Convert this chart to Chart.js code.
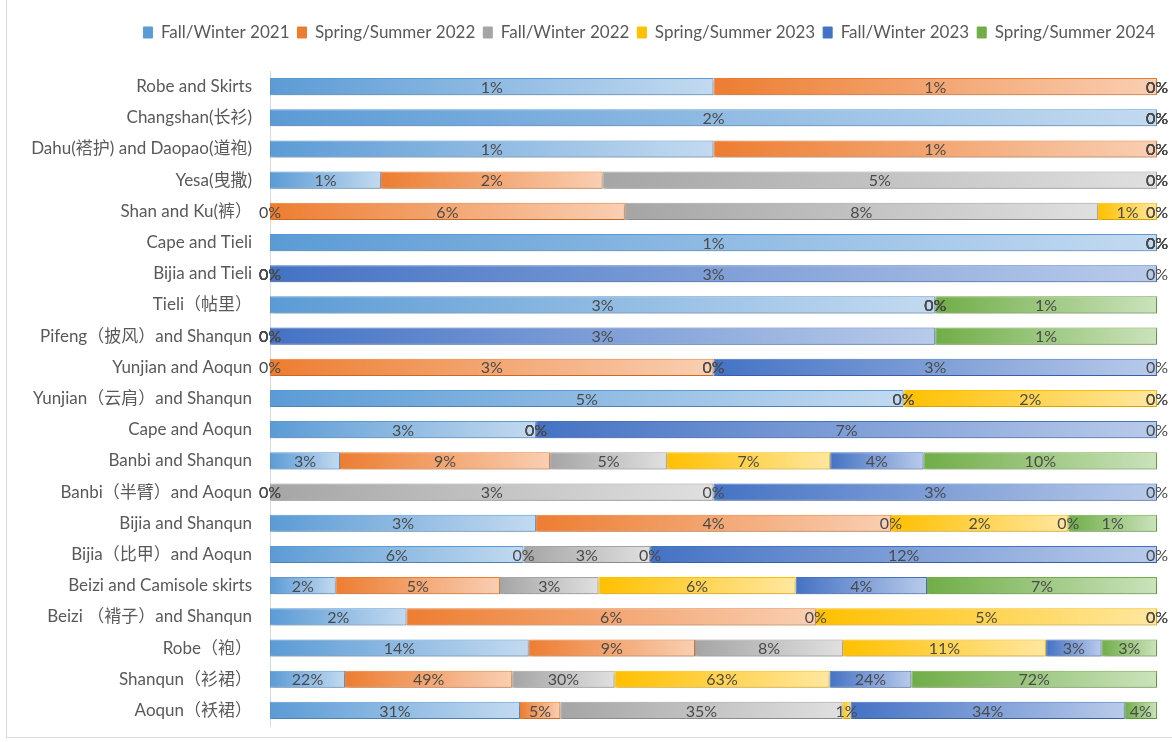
<!DOCTYPE html>
<html>
<head>
<meta charset="utf-8">
<title>Garment types by season</title>
<script src="https://cdn.jsdelivr.net/npm/chart.js@4.4.1/dist/chart.umd.min.js"></script>
<style>
  html, body { margin: 0; padding: 0; background: #fff; }
  #wrap { position: relative; width: 1172px; height: 742px; overflow: hidden; }
  #frame { position: absolute; left: 6px; top: -2px; width: 1200px; height: 739px;
           border-left: 1px solid #d9d9d9; border-bottom: 1px solid #d9d9d9; pointer-events: none; }
</style>
</head>
<body>
<div id="wrap">
  <canvas id="seasonChart" width="1172" height="742"></canvas>
  <div id="frame"></div>
</div>
<script>
// Constants

// garment combinations, top row first
const categories = [
  "Robe and Skirts",
  "Changshan(长衫)",
  "Dahu(褡护) and Daopao(道袍)",
  "Yesa(曳撒)",
  "Shan and Ku(裤）",
  "Cape and Tieli",
  "Bijia and Tieli",
  "Tieli（帖里）",
  "Pifeng（披风）and Shanqun",
  "Yunjian and Aoqun",
  "Yunjian（云肩）and Shanqun",
  "Cape and Aoqun",
  "Banbi and Shanqun",
  "Banbi（半臂）and Aoqun",
  "Bijia and Shanqun",
  "Bijia（比甲）and Aoqun",
  "Beizi and Camisole skirts",
  "Beizi （褙子）and Shanqun",
  "Robe（袍）",
  "Shanqun（衫裙）",
  "Aoqun（袄裙）"
];

const seasons = ["Fall/Winter 2021", "Spring/Summer 2022", "Fall/Winter 2022",
                 "Spring/Summer 2023", "Fall/Winter 2023", "Spring/Summer 2024"];

// share of each season (%), as printed on the bars
const fw2021 = [1, 2, 1, 1, 0, 1, 0, 3, 0, 0, 5, 3, 3, 0, 3, 6, 2, 2, 14, 22, 31];
const ss2022 = [1, 0, 1, 2, 6, 0, 0, 0, 0, 3, 0, 0, 9, 0, 4, 0, 5, 6, 9, 49, 5];
const fw2022 = [0, 0, 0, 5, 8, 0, 0, 0, 0, 0, 0, 0, 5, 3, 0, 3, 3, 0, 8, 30, 35];
const ss2023 = [0, 0, 0, 0, 1, 0, 0, 0, 0, 0, 2, 0, 7, 0, 2, 0, 6, 5, 11, 63, 1];
const fw2023 = [0, 0, 0, 0, 0, 0, 3, 0, 3, 3, 0, 7, 4, 3, 0, 12, 4, 0, 3, 24, 34];
const ss2024 = [0, 0, 0, 0, 0, 0, 0, 1, 1, 0, 0, 0, 10, 0, 1, 0, 7, 0, 3, 72, 4];

const seriesValues = [fw2021, ss2022, fw2022, ss2023, fw2023, ss2024];
const baseColors  = ["#5B9BD5", "#ED7D31", "#A5A5A5", "#FFC000", "#4472C4", "#70AD47"];
const lightColors = ["#C3DAF0", "#F9CFB3", "#E0E0E0", "#FFE7A0", "#B9CBEA", "#CBE3BC"];

const fontFamily = 'Lato, "Noto Sans CJK SC", sans-serif';

// Functions

// row totals so every bar fills 100%
function rowTotals() {
  return categories.map((c, i) => seriesValues.reduce((s, arr) => s + arr[i], 0));
}

// left-to-right gradient for one bar segment
function gradientFill(s) {
  return function (ctx) {
    const chart = ctx.chart;
    if (ctx.type !== 'data' || !chart.chartArea || !chart.scales.x) return baseColors[s];
    const i = ctx.dataIndex;
    let start = 0;
    for (let k = 0; k < ctx.datasetIndex; k++) start += chart.data.datasets[k].data[i];
    const end = start + chart.data.datasets[ctx.datasetIndex].data[i];
    const x0 = chart.scales.x.getPixelForValue(start);
    const x1 = chart.scales.x.getPixelForValue(end);
    if (x1 - x0 < 1) return baseColors[s];
    const g = chart.ctx.createLinearGradient(x0, 0, x1, 0);
    g.addColorStop(0, baseColors[s]);
    g.addColorStop(1, lightColors[s]);
    return g;
  };
}

// shadow under bars + the % labels in the middle of each segment
const barLabels = {
  id: 'barLabels',
  beforeDatasetsDraw(chart) {
    const ctx = chart.ctx;
    ctx.save();
    ctx.shadowColor = 'rgba(0,0,0,0.22)';
    ctx.shadowBlur = 3;
    ctx.shadowOffsetX = 1;
    ctx.shadowOffsetY = 2;
  },
  afterDatasetsDraw(chart) {
    const ctx = chart.ctx;
    ctx.restore();
    ctx.save();
    ctx.font = '16px ' + fontFamily;
    ctx.fillStyle = '#4a4a4a';
    ctx.textAlign = 'center';
    ctx.textBaseline = 'middle';
    chart.data.datasets.forEach((ds, d) => {
      chart.getDatasetMeta(d).data.forEach((bar, i) => {
        const cx = (bar.x + bar.base) / 2;
        ctx.fillText(ds.counts[i] + '%', cx, bar.y + 1);
      });
    });
    ctx.restore();
  }
};

// extra room under the legend, and nudge it a bit to the right
const legendGap = {
  id: 'legendGap',
  beforeInit(chart) {
    const fit = chart.legend.fit;
    chart.legend.fit = function () {
      fit.bind(chart.legend)();
      this.height += 20;
    };
  },
  afterLayout(chart) {
    chart.legend.left += 6;
    chart.legend.right += 6;
  }
};

function main() {
  const totals = rowTotals();
  const datasets = seriesValues.map((arr, s) => ({
    label: seasons[s],
    counts: arr,
    data: arr.map((v, i) => v / totals[i] * 100),
    backgroundColor: gradientFill(s),
    borderColor: baseColors[s],
    borderWidth: 1,
    borderSkipped: false,
    barPercentage: 0.55,
    categoryPercentage: 1
  }));

  new Chart("seasonChart", {
    type: "bar",
    data: { labels: categories, datasets: datasets },
    plugins: [barLabels, legendGap],
    options: {
      indexAxis: 'y',
      responsive: false,
      animation: false,
      layout: { padding: { top: 16, right: 15, bottom: 16, left: 0 } },
      plugins: {
        legend: {
          position: 'top',
          align: 'end',
          labels: {
            boxWidth: 9,
            boxHeight: 11,
            padding: 8,
            color: '#595959',
            font: { size: 17, family: fontFamily }
          }
        },
        tooltip: { enabled: false }
      },
      scales: {
        x: { stacked: true, min: 0, max: 100, display: false },
        y: {
          stacked: true,
          grid: { display: false, drawTicks: false },
          border: { display: true, color: '#d9d9d9' },
          ticks: {
            autoSkip: false,
            padding: 18,
            color: '#595959',
            font: { size: 17, family: fontFamily }
          },
          afterFit(scale) {
            scale.width = 270;
            scale.paddingTop = 0;
            scale.paddingBottom = 0;
          }
        }
      }
    }
  });
}

// let's get this party started
main();
</script>
</body>
</html>
